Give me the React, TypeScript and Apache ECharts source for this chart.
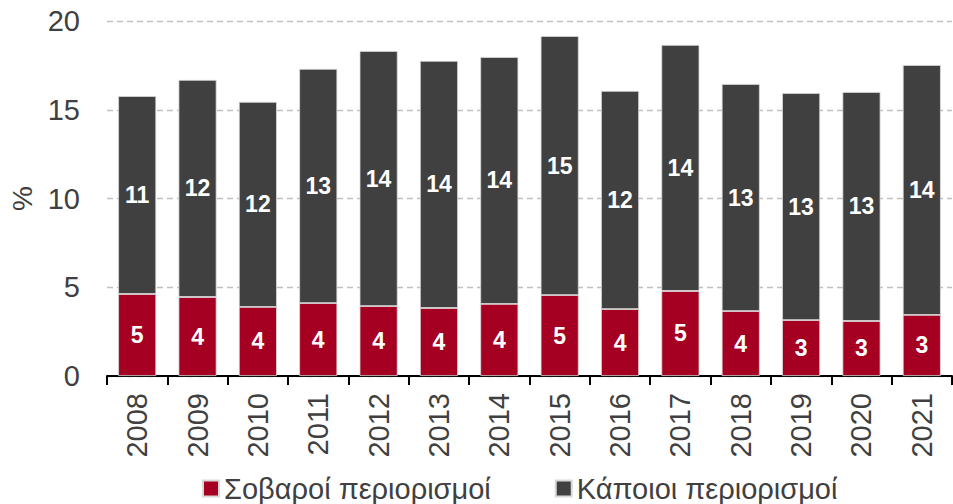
import React, { useEffect, useRef } from "react";
import * as echarts from "echarts";

const years = ["2008","2009","2010","2011","2012","2013","2014","2015","2016","2017","2018","2019","2020","2021"];
const severe = [4.62, 4.45, 3.89, 4.11, 3.94, 3.83, 4.06, 4.56, 3.77, 4.79, 3.66, 3.15, 3.10, 3.44];
const some = [11.15, 12.23, 11.55, 13.19, 14.37, 13.92, 13.91, 14.59, 12.29, 13.86, 12.79, 12.79, 12.90, 14.08];
const seriesNames = ["Σοβαροί περιορισμοί", "Κάποιοι περιορισμοί"];
const yTicks = [0, 5, 10, 15, 20];

export default function App() {
  const ref = useRef<HTMLDivElement>(null);
  useEffect(() => {
    const chart = echarts.init(ref.current!, null, { renderer: "svg" });
    const font = "Liberation Sans, Arial, sans-serif";
    const label = {
      show: true,
      position: "inside",
      color: "#ffffff",
      fontWeight: "bold",
      fontSize: 23,
      fontFamily: font,
      formatter: (p: any) => String(Math.round(p.value)),
    };
    chart.setOption({
      animation: false,
      textStyle: { fontFamily: font },
      grid: { left: 107, right: 1, top: 21, bottom: 128, outerBoundsMode: "none" },
      legend: {
        top: 474,
        left: 202,
        padding: 0,
        itemGap: 64,
        itemWidth: 16,
        itemHeight: 16,
        icon: "rect",
        textStyle: { fontSize: 29, color: "#404040", fontFamily: font },
        data: seriesNames,
      },
      xAxis: {
        type: "category",
        data: years,
        axisLine: { lineStyle: { color: "#000", width: 2 } },
        axisTick: { show: true, length: 9, lineStyle: { color: "#000", width: 2 } },
        axisLabel: { rotate: 90, fontSize: 29, color: "#404040", margin: 17, fontFamily: font },
      },
      yAxis: {
        type: "value",
        min: yTicks[0],
        max: yTicks[yTicks.length - 1],
        interval: 5,
        name: "%",
        nameLocation: "middle",
        nameGap: 71,
        nameRotate: 90,
        nameTextStyle: { fontSize: 28, color: "#404040", fontFamily: font },
        axisLine: { show: false },
        axisTick: { show: false },
        axisLabel: { fontSize: 29, color: "#404040", margin: 27, fontFamily: font },
        splitLine: { lineStyle: { color: "#c0c0c0", type: [6, 4], width: 1.3 } },
      },
      series: [
        {
          name: seriesNames[0],
          type: "bar",
          stack: "t",
          data: severe,
          barWidth: "63%",
          itemStyle: { color: "#A50021", borderColor: "#d9d9d9", borderWidth: 0.8 },
          label,
        },
        {
          name: seriesNames[1],
          type: "bar",
          stack: "t",
          data: some,
          barWidth: "63%",
          itemStyle: { color: "#404040", borderColor: "#d9d9d9", borderWidth: 0.8 },
          label,
        },
      ],
    });
    return () => chart.dispose();
  }, []);
  return <div ref={ref} style={{ width: 953, height: 504, position: "absolute", left: 0, top: 0 }} />;
}
